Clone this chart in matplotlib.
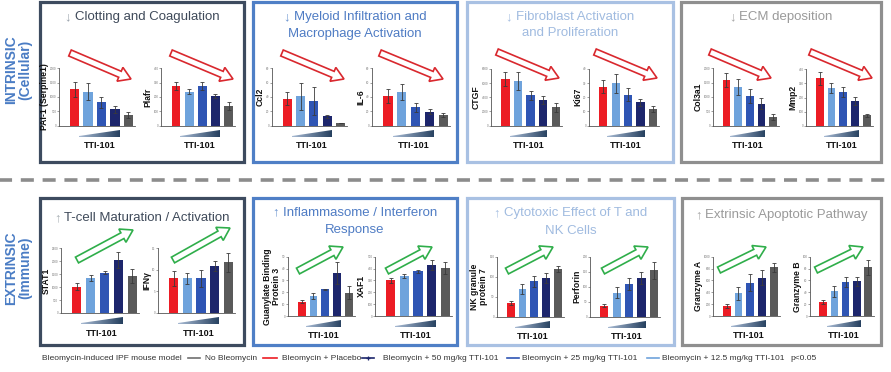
import numpy as np
import matplotlib
matplotlib.use("Agg")
import matplotlib.pyplot as plt
from matplotlib.patches import Rectangle, Polygon, FancyArrow
from matplotlib.lines import Line2D
from matplotlib.colors import LinearSegmentedColormap

plt.rcParams['font.family'] = ['Liberation Sans', 'DejaVu Sans']
plt.rcParams['lines.scale_dashes'] = False

W, H, DPI = 891, 372, 100

# ---------------- data ----------------
GROUPS = ["Bleomycin + Placebo", "Bleomycin + 12.5 mg/kg TTI-101",
          "Bleomycin + 25 mg/kg TTI-101", "Bleomycin + 50 mg/kg TTI-101",
          "No Bleomycin"]
BAR_COLORS = ["#ec1c24", "#6fa3dc", "#2f55b4", "#1d266c", "#5a5a5a"]

PAI1 = [1270, 1190, 810, 570, 370];   PAI1_ERR = [270, 310, 200, 115, 95]
PLAFR = [277, 237, 277, 207, 137];    PLAFR_ERR = [30, 16, 30, 12, 30]
CCL2 = [37.7, 41, 35, 13, 3.7];       CCL2_ERR = [9.3, 19, 19.6, 2.3, 0.5]
IL6 = [41.9, 47, 25.6, 19.5, 14.9];   IL6_ERR = [9.7, 11, 6.4, 3.5, 2.8]
CTGF = [6570, 6290, 4290, 3570, 2570]; CTGF_ERR = [950, 1240, 620, 570, 670]
KI67 = [27.4, 29.8, 21.9, 16.4, 11.9]; KI67_ERR = [4.7, 6.6, 4.5, 2.4, 2.1]
COL3A1 = [1593, 1360, 1035, 767, 302]; COL3A1_ERR = [256, 280, 232, 186, 93]
MMP2 = [336, 270, 239, 175, 73];      MMP2_ERR = [47, 35, 33, 29, 12]
STAT1 = [1018, 1353, 1559, 2036, 1418]; STAT1_ERR = [129, 103, 52, 309, 270]
IFNG = [8.0, 8.0, 8.0, 10.9, 11.8];   IFNG_ERR = [1.7, 1.3, 2.0, 1.2, 2.2]
GBP3 = [12.1, 16.9, 22.5, 36, 19.7];  GBP3_ERR = [1.4, 2.2, 0.5, 9.2, 5.3]
XAF1 = [300, 337, 376, 427, 407];     XAF1_ERR = [23, 20, 12, 42, 51]
NKG7 = [33, 69, 88, 97, 119];         NKG7_ERR = [5, 12, 14, 13, 8]
PRF1 = [36.7, 80, 108, 128, 154];     PRF1_ERR = [4.3, 18, 21, 20, 29]
GZMA = [169, 382, 562, 646, 820];     GZMA_ERR = [28, 112, 146, 129, 79]
GZMB = [23.6, 41.6, 57.3, 58.4, 82];  GZMB_ERR = [3.9, 9, 7.9, 7.9, 12.4]

# ---------------- layout (pixels) ----------------
# label, values, errors, ymax, tick step, axis-x0, last-bar-end x, top y, bottom y, arrow (tail x,y, tip x,y)
CHARTS = [
    ("PAI-1 (Serpine1)", PAI1, PAI1_ERR, 2000, 500, 59, 133, 68.3, 125.7, (70, 53, 131, 79)),
    ("Plafr", PLAFR, PLAFR_ERR, 400, 100, 161, 233, 68.3, 125.7, (171, 53, 233, 79)),
    ("Ccl2", CCL2, CCL2_ERR, 80, 20, 272, 345, 68.3, 125.7, (282, 53, 344, 79)),
    ("IL-6", IL6, IL6_ERR, 80, 20, 372, 448, 68.3, 125.7, (380, 53, 443, 79)),
    ("CTGF", CTGF, CTGF_ERR, 8000, 2000, 491, 560, 69, 125.5, (497, 52, 559, 78)),
    ("Ki67", KI67, KI67_ERR, 40, 10, 589, 657, 69, 125.5, (595, 52, 657, 78)),
    ("Col3a1", COL3A1, COL3A1_ERR, 2000, 500, 713, 777, 68.3, 125.7, (710, 52, 771, 78)),
    ("Mmp2", MMP2, MMP2_ERR, 400, 100, 806, 871, 69.3, 125.7, (810, 52, 872, 78)),
    ("STAT1", STAT1, STAT1_ERR, 2500, 500, 60.7, 137, 248.3, 313, (77, 260, 133, 230)),
    ("IFN\u03b3", IFNG, IFNG_ERR, 15, 5, 158, 233, 248.3, 313, (173, 260, 230, 228)),
    ("Guanylate Binding\nProtein 3", GBP3, GBP3_ERR, 50, 10, 288, 353, 256.7, 316, (298, 271, 343, 247)),
    ("XAF1", XAF1, XAF1_ERR, 500, 100, 375, 450, 256.7, 316, (387, 271, 432, 247)),
    ("NK granule\nprotein 7", NKG7, NKG7_ERR, 150, 50, 497, 562, 256.7, 316.5, (507, 271, 553, 247)),
    ("Perforin", PRF1, PRF1_ERR, 200, 50, 590, 658, 256.7, 316.5, (603, 271, 648, 247)),
    ("Granzyme A", GZMA, GZMA_ERR, 1000, 200, 713, 778, 256.7, 316, (719, 270, 766, 247)),
    ("Granzyme B", GZMB, GZMB_ERR, 100, 20, 810, 872, 256.7, 316, (816, 270, 863, 247)),
]

# boxes: x0, x1, y0, y1, border colour, text colour, arrow colour, arrow glyph, title lines, line ys
BOXES = [
    (40, 244, 1.5, 161.5, "#3d4b5f", "#3f4a5a", "#9aa3ad", "\u2193", ["Clotting and Coagulation"], [17]),
    (253, 457, 1.5, 161.5, "#4f7fc6", "#4f7cc4", "#6d95d0", "\u2193", ["Myeloid Infiltration and", "Macrophage Activation"], [17, 33.5]),
    (467, 673, 1.5, 161.5, "#a9c1e3", "#a0bbe0", "#a8c0e2", "\u2193", ["Fibroblast Activation", "and Proliferation"], [17, 33.5]),
    (681, 881, 1.5, 161.5, "#8f8f8f", "#9a9a9a", "#a8a8a8", "\u2193", ["ECM deposition"], [17]),
    (40, 244, 197.5, 345, "#3d4b5f", "#3f4a5a", "#a9b0b5", "\u2191", ["T-cell Maturation / Activation"], [218]),
    (253, 457, 197.5, 345, "#4f7fc6", "#4f7cc4", "#6d95d0", "\u2191", ["Inflammasome / Interferon", "Response"], [212.5, 229.5]),
    (467, 674, 197.5, 345, "#a9c1e3", "#a0bbe0", "#a8c0e2", "\u2191", ["Cytotoxic Effect of T and", "NK Cells"], [213, 231]),
    (682, 881, 197.5, 345, "#8f8f8f", "#9a9a9a", "#a8a8a8", "\u2191", ["Extrinsic Apoptotic Pathway"], [215]),
]

XMIN, XMAX, BARW = -1.15, 4.5, 0.67

fig = plt.figure(figsize=(W / DPI, H / DPI), dpi=DPI)
fig.patch.set_facecolor("white")
ov = fig.add_axes([0, 0, 1, 1])
ov.set_axis_off()
renderer = fig.canvas.get_renderer()

# boxes
for (bx0, bx1, by0, by1, bc, tc, ac, glyph, lines, ys) in BOXES:
    ov.add_patch(Rectangle((bx0, by0), bx1 - bx0, by1 - by0, facecolor="white",
                           edgecolor=bc, lw=2.3, zorder=1))
    cx = (bx0 + bx1) / 2
    for i, (ln, y) in enumerate(zip(lines, ys)):
        if i == 0:
            t_full = ov.text(0, 0, glyph + " " + ln, fontsize=9.5)
            w_full = t_full.get_window_extent(renderer).width
            t_full.remove()
            left = cx - w_full / 2
            right = cx + w_full / 2
            ov.text(left, y, glyph, fontsize=9.5, color=ac, ha="left", va="center", zorder=3)
            ov.text(right, y, ln, fontsize=9.5, color=tc, ha="right", va="center", zorder=3)
        else:
            ov.text(cx, y, ln, fontsize=9.5, color=tc, ha="center", va="center", zorder=3)

# dashed separator
ov.plot([-8, W], [180, 180], color="#8c8c8c", lw=2.6, dashes=(9.4, 6.3),
        solid_capstyle="butt", zorder=1)

# side labels
ov.text(18, 70, "INTRINSIC\n(Cellular)", rotation=90, fontsize=10, fontweight="bold",
        color="#4a7cc4", ha="center", va="center", multialignment="center", linespacing=1.05)
ov.text(18, 268, "EXTRINSIC\n(Immune)", rotation=90, fontsize=10, fontweight="bold",
        color="#4a7cc4", ha="center", va="center", multialignment="center", linespacing=1.05)

wedge_cmap = LinearSegmentedColormap.from_list("wedge", ["#a7bad3", "#26405f"])
grad = np.linspace(0, 1, 64).reshape(1, -1)

for (label, vals, errs, ymax, step, x0, xend, ytop, ybot, arr) in CHARTS:
    x1 = x0 + (xend - x0) * (XMAX - XMIN) / (4 + BARW / 2 - XMIN)
    ax = fig.add_axes([x0 / W, 1 - ybot / H, (x1 - x0) / W, (ybot - ytop) / H])
    ax.set_facecolor("none")
    xs = np.arange(len(vals))
    ax.bar(xs, vals, width=BARW, color=BAR_COLORS, zorder=2)
    ax.errorbar(xs, vals, yerr=errs, fmt="none", ecolor="#3a3a3a", elinewidth=0.6,
                capsize=1.6, capthick=0.6, zorder=3)
    ax.set_xlim(XMIN, XMAX)
    ax.set_ylim(0, ymax)
    ticks = np.arange(0, ymax + step / 2, step)
    ax.set_yticks(ticks)
    ax.set_yticklabels([f"{v:g}" for v in ticks])
    ax.set_xticks([])
    for s in ("top", "right"):
        ax.spines[s].set_visible(False)
    for s in ("left", "bottom"):
        ax.spines[s].set_linewidth(0.6)
        ax.spines[s].set_color("#555555")
    ax.tick_params(axis="y", labelsize=2.2, length=1.3, width=0.4, pad=0.5,
                   colors="#555555", labelcolor="#777777")
    ax.set_ylabel(label, fontsize=6.2, fontweight="bold", labelpad=0.8,
                  linespacing=1.0, color="#111111")

    # dose wedge + TTI-101 label (in overlay pixel space)
    sc = (x1 - x0) / (XMAX - XMIN)
    xl = x0 + (BARW / 2 - XMIN) * sc
    xr = x0 + (3 + BARW / 2 - XMIN) * sc
    yb, yt = ybot + 11.5, ybot + 4
    im = ov.imshow(grad, extent=(xl, xr, yb, yt), cmap=wedge_cmap, aspect="auto",
                   interpolation="bilinear", zorder=2)
    poly = Polygon([(xl, yb - 1.3), (xl, yb), (xr, yb), (xr, yt)], closed=True,
                   facecolor="none", edgecolor="none", transform=ov.transData)
    ov.add_patch(poly)
    im.set_clip_path(poly)
    ov.text((xl + xr) / 2, ybot + 20, "TTI-101", fontsize=6.5, fontweight="bold",
            ha="center", va="center", color="#111111", zorder=3)

    # trend arrow
    tx, ty, hx, hy = arr
    up = hy < ty
    col = "#2fae4a" if up else "#d9282e"
    ov.add_patch(FancyArrow(tx, ty, hx - tx, hy - ty, width=6.5, head_width=15,
                            head_length=12, length_includes_head=True,
                            facecolor="white", edgecolor=col, lw=1.2, zorder=2))

# legend
LEG_Y = 358
ov.text(42, LEG_Y, "Bleomycin-induced IPF mouse model", fontsize=6, color="#333333",
        ha="left", va="center")
LEGEND_ITEMS = [
    (188, 200, "#707070", None, 205, "No Bleomycin"),
    (263, 277, BAR_COLORS[0], None, 282, "Bleomycin + Placebo"),
    (362, 374, BAR_COLORS[3], "+", 383, "Bleomycin + 50 mg/kg TTI-101"),
    (507, 519, BAR_COLORS[2], None, 522, "Bleomycin + 25 mg/kg TTI-101"),
    (647, 659, BAR_COLORS[1], None, 662, "Bleomycin + 12.5 mg/kg TTI-101"),
]
for (lx0, lx1, c, mk, tx, txt) in LEGEND_ITEMS:
    ov.add_line(Line2D([lx0, lx1], [LEG_Y, LEG_Y], color=c, lw=1.2, zorder=3))
    if mk:
        ov.add_line(Line2D([(lx0 + lx1) / 2], [LEG_Y], color=c, marker="+",
                           ms=3.5, mew=0.9, zorder=3))
    ov.text(tx, LEG_Y, txt, fontsize=6, color="#333333", ha="left", va="center")
ov.text(790, LEG_Y, "p<0.05", fontsize=6, color="#333333", ha="left", va="center")

ov.set_xlim(0, W)
ov.set_ylim(H, 0)

fig.savefig("out.png", dpi=DPI, facecolor="white")
